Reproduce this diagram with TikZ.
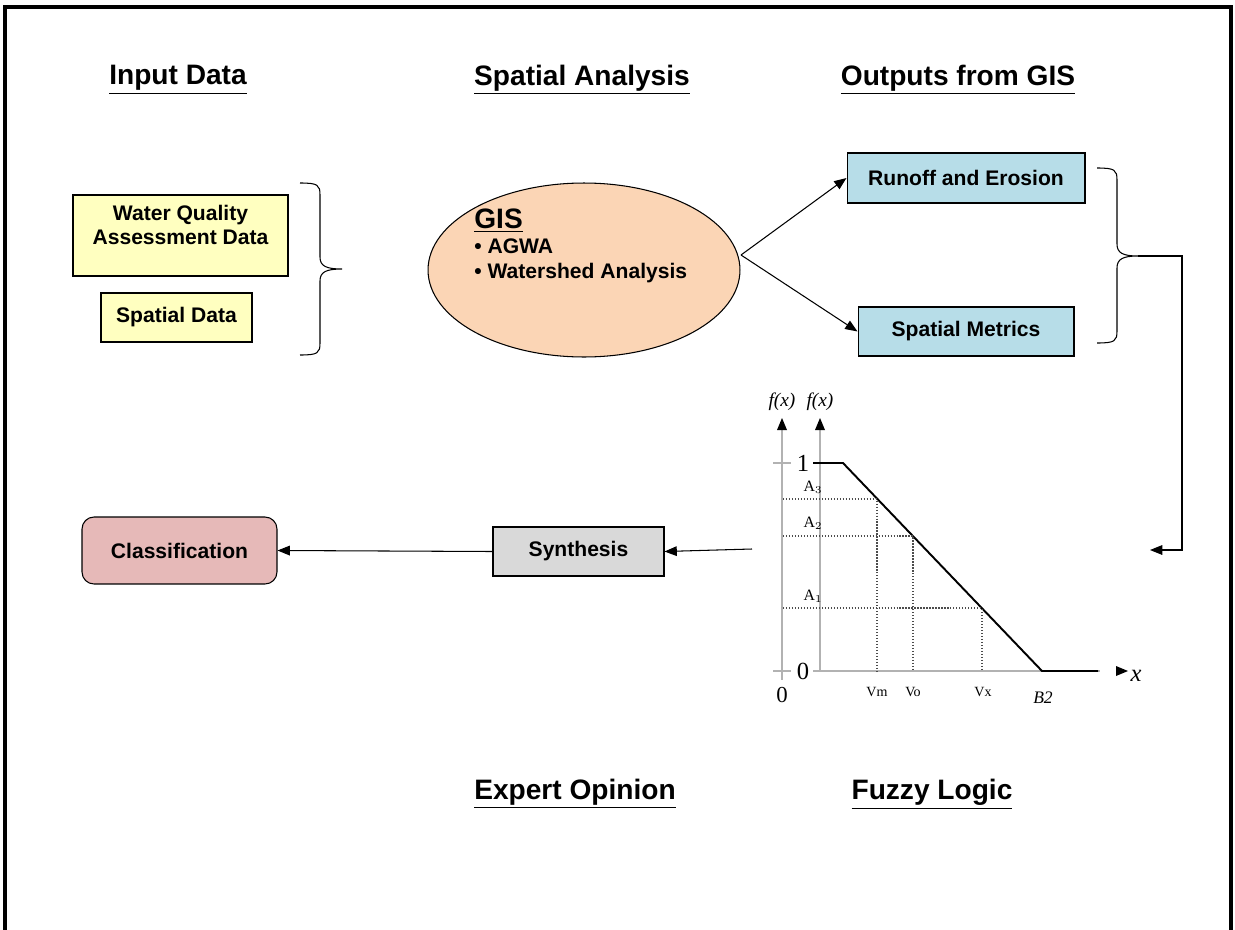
\documentclass[tikz,border=0pt]{standalone}
\usepackage{fontspec}
\setmainfont{Liberation Sans}
\newfontfamily\chartfont{Liberation Serif}
\usetikzlibrary{calc, positioning}
\usetikzlibrary{arrows.meta}
\usetikzlibrary{shapes.geometric}

\definecolor{inputYellow}{HTML}{FFFFC0}
\definecolor{gisPeach}{HTML}{FBD5B5}
\definecolor{outputBlue}{HTML}{B7DDE8}
\definecolor{synthGray}{HTML}{D9D9D9}
\definecolor{classPink}{HTML}{E6B9B8}

\tikzset{
  heading/.style={font=\bfseries\fontsize{16}{19}\selectfont},
  databox/.style={draw, semithick, inner sep=0pt, align=center,
    font=\bfseries\fontsize{12}{14}\selectfont},
  flow/.style={-{Triangle[length=7pt,width=5.5pt]}, semithick},
  axisline/.style={gray!60, line width=0.8pt},
  guide/.style={densely dotted, black!70, line width=0.7pt},
}

\begin{document}
\begin{tikzpicture}[x=0.02cm, y=-0.02cm]
\useasboundingbox (0,0) rectangle (1235,930);
\draw[line width=1.8pt] (5,930) -- (5,7) -- (1231,7) -- (1231,930);

% headings
\node[heading] (InputHead) at (178,80) {\underline{Input Data}};
\node[heading] (SpatialHead) at (582,80) {\underline{Spatial Analysis}};
\node[heading] (OutputHead) at (958,80) {\underline{Outputs from GIS}};
\node[heading] (ExpertHead) at (575,794) {\underline{Expert Opinion}};
\node[heading] (FuzzyHead) at (932,794) {\underline{Fuzzy Logic}};

% input data
\node[databox, fill=inputYellow, minimum width=4.3cm, minimum height=1.62cm,
    text depth=12pt] (WaterBox) at (180.5,235.5) {Water Quality\\Assessment Data};
\node[databox, fill=inputYellow, minimum width=3.02cm, minimum height=0.98cm]
    (SpatialBox) at (176.5,317.5) {Spatial Data};
\draw[semithick] (300,183) .. controls (318,183) and (320,185) .. (320,195)
    -- (320,257) .. controls (320,266) and (326,269) .. (342,269)
    .. controls (326,269) and (320,272) .. (320,281)
    -- (320,343) .. controls (320,353) and (318,355) .. (300,355);

% GIS
\node[ellipse, draw, semithick, fill=gisPeach, inner sep=0pt,
    minimum width=6.24cm, minimum height=3.48cm] (GISNode) at (584,270) {};
\node[anchor=north west, align=left, inner sep=0pt,
    font=\bfseries\fontsize{12}{14}\selectfont] (GISText) at (474,209)
    {{\fontsize{16}{16}\selectfont\underline{GIS}}\\\textbullet\ AGWA\\\textbullet\ Watershed Analysis};
\coordinate (GISout) at (741,255);

% outputs
\node[databox, fill=outputBlue, minimum width=4.76cm, minimum height=1cm]
    (RunoffBox) at (966,178) {Runoff and Erosion};
\node[databox, fill=outputBlue, minimum width=4.32cm, minimum height=0.98cm]
    (MetricsBox) at (966,331.5) {Spatial Metrics};
\draw[flow] (GISout) -- (RunoffBox.west);
\draw[flow] (GISout) -- (MetricsBox.west);
\draw[semithick] (1097,168) .. controls (1115,168) and (1117,170) .. (1117,180)
    -- (1117,244) .. controls (1117,253) and (1123,256) .. (1138,256)
    .. controls (1123,256) and (1117,259) .. (1117,268)
    -- (1117,331) .. controls (1117,341) and (1115,343) .. (1097,343);
\coordinate (BraceTip) at (1138,256);
\coordinate (ChartIn) at (1150,550);
\draw[flow] (BraceTip) -- (1182,256) -- (1182,550) -- (ChartIn);

% fuzzy chart
\draw[axisline] (782,428) -- (782,680);
\draw[axisline] (820,428) -- (820,671) -- (1100,671);
\fill (782,418) -- (777,430) -- (787,430) -- cycle;
\fill (820,418) -- (815,430) -- (825,430) -- cycle;
\fill (1128,671) -- (1116,666) -- (1116,676) -- cycle;
\draw[axisline] (773,463) -- (791,463);
\draw[axisline] (773,671) -- (791,671);
\draw[axisline] (813,671) -- (830,671);
\draw[line width=1.1pt] (813,463) -- (843,463) -- (1042,671) -- (1098,671);
\draw[guide] (783,499) -- (877,499) -- (877,671);
\draw[guide] (783,536) -- (913,536) -- (913,671);
\draw[guide] (783,608) -- (982,608) -- (982,671);
\begin{scope}[font=\chartfont]
\node[font=\chartfont\itshape\fontsize{11}{11}\selectfont] (fxLeft) at (782,402) {f(x)};
\node[font=\chartfont\itshape\fontsize{11}{11}\selectfont] (fxRight) at (820,402) {f(x)};
\node[font=\chartfont\fontsize{14}{14}\selectfont] (OneTick) at (803,463) {1};
\node[font=\chartfont\fontsize{14}{14}\selectfont] (ZeroTick) at (803,671) {0};
\node[font=\chartfont\fontsize{13}{13}\selectfont] (Origin) at (782,695) {0};
\node[font=\chartfont\fontsize{9}{9}\selectfont] (AThree) at (813,487) {A$_3$};
\node[font=\chartfont\fontsize{9}{9}\selectfont] (ATwo) at (813,523) {A$_2$};
\node[font=\chartfont\fontsize{9}{9}\selectfont] (AOne) at (813,596) {A$_1$};
\node[font=\chartfont\fontsize{8}{8}\selectfont] (VmLabel) at (877,692) {Vm};
\node[font=\chartfont\fontsize{8}{8}\selectfont] (VoLabel) at (913,692) {Vo};
\node[font=\chartfont\fontsize{8}{8}\selectfont] (VxLabel) at (983,692) {Vx};
\node[font=\chartfont\itshape\fontsize{10}{10}\selectfont] (BTwoLabel) at (1043,698) {B2};
\node[font=\chartfont\itshape\fontsize{14}{14}\selectfont] (XLabel) at (1136,676) {x};
\end{scope}
\coordinate (ChartOut) at (752,549);

% expert opinion
\node[databox, fill=synthGray, minimum width=3.42cm, minimum height=0.98cm]
    (SynthBox) at (578.5,551.5) {Synthesis};
\node[databox, fill=classPink, rounded corners=0.24cm,
    minimum width=3.9cm, minimum height=1.34cm] (ClassBox) at (179.5,550.5) {Classification};
\draw[flow] (ChartOut) -- (SynthBox.east);
\draw[flow] (SynthBox.west) -- (ClassBox.east);
\end{tikzpicture}
\end{document}
